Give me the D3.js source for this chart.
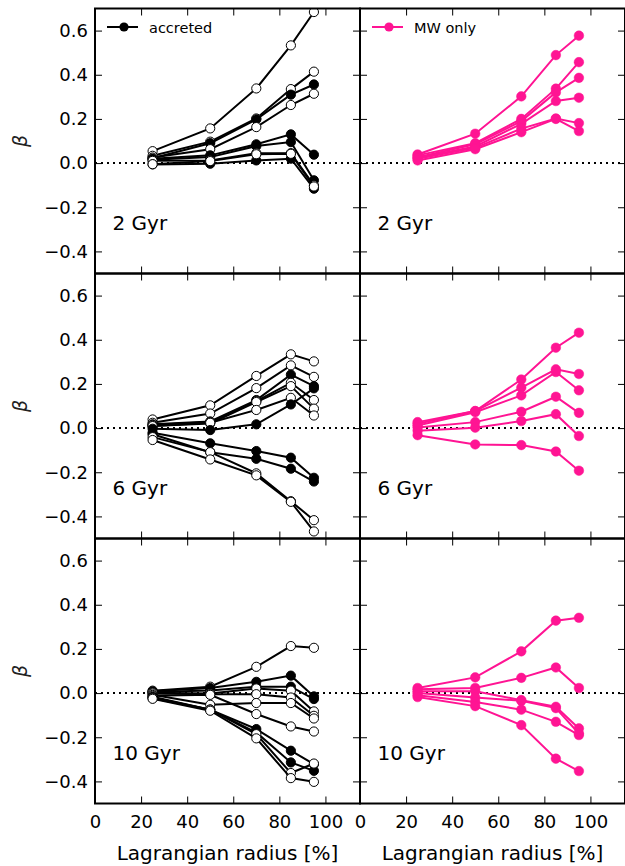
<!DOCTYPE html>
<html>
<head>
<meta charset="utf-8">
<script src="https://cdn.jsdelivr.net/npm/d3@7"></script>
<style>
  html, body { margin: 0; padding: 0; background: #fff; }
  svg { display: block; font-family: "DejaVu Sans", sans-serif; }
</style>
</head>
<body>
<svg id="chart" width="625" height="866"></svg>
<script>
// ---------------- data ----------------
const radii = [25, 50, 70, 85, 95];
const xTicks = [0, 20, 40, 60, 80, 100];
const yTicks = [-0.4, -0.2, 0.0, 0.2, 0.4, 0.6];
const timeLabels = ["2 Gyr", "6 Gyr", "10 Gyr"];
const legendLabels = ["accreted", "MW only"];

// accreted runs: values per Lagrangian radius; open = hollow marker
const acc2 = [
  [0.054, 0.157, 0.338, 0.533, 0.684],
  [0.033, 0.097, 0.202, 0.335, 0.414],
  [0.022, 0.090, 0.198, 0.310, 0.356],
  [0.025, 0.063, 0.163, 0.263, 0.314],
  [0.020, 0.035, 0.085, 0.130, 0.038],
  [0.015, 0.027, 0.077, 0.095, -0.078],
  [0.010, 0.012, 0.045, 0.045, -0.101],
  [-0.006, -0.003, 0.012, 0.020, -0.116],
  [-0.005, 0.009, 0.040, 0.042, -0.106]
];
const acc2Open = [true, true, false, true, false, false, true, false, true];

const acc6 = [
  [0.039, 0.103, 0.236, 0.334, 0.302],
  [0.024, 0.066, 0.181, 0.284, 0.232],
  [0.017, 0.030, 0.127, 0.242, 0.190],
  [0.014, 0.027, 0.122, 0.205, 0.127],
  [0.009, 0.021, 0.118, 0.190, 0.088],
  [0.009, 0.024, 0.082, 0.137, 0.057],
  [-0.003, -0.009, 0.017, 0.107, 0.180],
  [-0.021, -0.069, -0.104, -0.134, -0.225],
  [-0.028, -0.109, -0.139, -0.184, -0.242],
  [-0.041, -0.109, -0.205, -0.331, -0.417],
  [-0.054, -0.142, -0.214, -0.334, -0.468]
];
const acc6Open = [true, true, false, true, true, true, false, false, false, true, true];

const acc10 = [
  [0.011, 0.029, 0.119, 0.213, 0.205],
  [0.008, 0.023, 0.051, 0.079, -0.015],
  [0.005, 0.012, 0.029, 0.029, -0.027],
  [0.002, -0.002, 0.021, 0.011, -0.083],
  [-0.002, -0.005, -0.005, -0.020, -0.103],
  [-0.008, -0.053, -0.045, -0.045, -0.115],
  [-0.012, -0.008, -0.095, -0.151, -0.174],
  [-0.017, -0.075, -0.163, -0.261, -0.322],
  [-0.020, -0.075, -0.178, -0.314, -0.352],
  [-0.023, -0.075, -0.186, -0.362, -0.319],
  [-0.026, -0.080, -0.205, -0.385, -0.402]
];
const acc10Open = [true, false, false, true, true, true, true, false, false, true, true];

// MW-only runs (all filled)
const mw2 = [
  [0.039, 0.133, 0.302, 0.489, 0.577],
  [0.035, 0.090, 0.200, 0.337, 0.457],
  [0.027, 0.085, 0.190, 0.320, 0.386],
  [0.024, 0.075, 0.178, 0.281, 0.296],
  [0.020, 0.069, 0.156, 0.202, 0.181],
  [0.012, 0.063, 0.140, 0.200, 0.145]
];
const mw6 = [
  [0.027, 0.077, 0.220, 0.364, 0.432],
  [0.020, 0.077, 0.183, 0.266, 0.245],
  [0.012, 0.072, 0.148, 0.254, 0.171],
  [0.003, 0.027, 0.074, 0.142, 0.069],
  [-0.012, 0.002, 0.032, 0.063, -0.036],
  [-0.032, -0.074, -0.077, -0.106, -0.193]
];
const mw10 = [
  [0.023, 0.071, 0.189, 0.328, 0.341],
  [0.017, 0.023, 0.069, 0.116, 0.023],
  [0.008, 0.008, -0.032, -0.062, -0.160],
  [0.000, -0.020, -0.035, -0.068, -0.183],
  [-0.010, -0.040, -0.075, -0.130, -0.190],
  [-0.018, -0.059, -0.145, -0.297, -0.353]
];

// ---------------- layout ----------------
const PINK = "#ff1493";
const panelLefts = [95, 360];
const panelTops = [8.5, 273.5, 538.5];
const PW = 265, PH = 265;

const x = d3.scaleLinear().domain([0, 115]).range([0, PW]);
const y = d3.scaleLinear().domain([-0.5, 0.7]).range([PH, 0]);
const line = d3.line().x((d, i) => x(radii[i])).y(d => y(d));

const svg = d3.select("#chart");
const defs = svg.append("defs");
defs.append("clipPath").attr("id", "clip")
  .append("rect").attr("x", 0).attr("y", 0).attr("width", PW).attr("height", PH);

const accSets = [[acc2, acc2Open], [acc6, acc6Open], [acc10, acc10Open]];
const mwSets = [mw2, mw6, mw10];

function drawPanel(row, col) {
  const g = svg.append("g")
    .attr("transform", `translate(${panelLefts[col]},${panelTops[row]})`);
  const data = g.append("g").attr("clip-path", "url(#clip)");

  // zero line
  data.append("line")
    .attr("x1", 0).attr("x2", PW)
    .attr("y1", y(0)).attr("y2", y(0))
    .attr("stroke", "#000").attr("stroke-width", 2)
    .attr("stroke-dasharray", "2,4");

  const series = col === 0 ? accSets[row][0] : mwSets[row];
  const openFlags = col === 0 ? accSets[row][1] : series.map(() => false);
  const color = col === 0 ? "#000" : PINK;

  series.forEach((vals, k) => {
    const s = data.append("g");
    s.append("path").attr("d", line(vals))
      .attr("fill", "none").attr("stroke", color).attr("stroke-width", 2);
    s.selectAll("circle").data(vals).join("circle")
      .attr("cx", (d, i) => x(radii[i]))
      .attr("cy", d => y(d))
      .attr("r", col === 0 ? 4.6 : 4.8)
      .attr("fill", openFlags[k] ? "#fff" : color)
      .attr("stroke", col === 0 ? "#000" : PINK)
      .attr("stroke-width", col === 0 ? 1 : 0.5);
  });

  // axes (ticks inward on all sides)
  const bottom = d3.axisBottom(x).tickValues(xTicks).tickSizeInner(-7).tickSizeOuter(0)
    .tickPadding(12).tickFormat(row === 2 ? d3.format("d") : () => "");
  const top = d3.axisTop(x).tickValues(xTicks).tickSizeInner(-7).tickSizeOuter(0).tickFormat(() => "");
  const left = d3.axisLeft(y).tickValues(yTicks).tickSizeInner(-7).tickSizeOuter(0)
    .tickPadding(7).tickFormat(col === 0 ? d3.format(".1f") : () => "");
  const right = d3.axisRight(y).tickValues(yTicks).tickSizeInner(-7).tickSizeOuter(0).tickFormat(() => "");

  const styleAxis = sel => {
    sel.select(".domain").remove();
    sel.selectAll(".tick line").attr("stroke", "#000").attr("stroke-width", 1);
    sel.selectAll(".tick text").attr("fill", "#000")
      .style("font-family", "DejaVu Sans").style("font-size", "18px");
  };
  g.append("g").attr("transform", `translate(0,${PH})`).call(bottom).call(styleAxis);
  g.append("g").call(top).call(styleAxis);
  g.append("g").call(left).call(styleAxis);
  g.append("g").attr("transform", `translate(${PW},0)`).call(right).call(styleAxis);

  // frame
  g.append("rect").attr("x", 0).attr("y", 0).attr("width", PW).attr("height", PH)
    .attr("fill", "none").attr("stroke", "#000").attr("stroke-width", 2);

  // time label
  g.append("text").attr("x", 17.5).attr("y", 221)
    .style("font-size", "20px").attr("fill", "#000").text(timeLabels[row]);

  // legend in top row
  if (row === 0) {
    g.append("line").attr("x1", 12).attr("x2", 43).attr("y1", 18.5).attr("y2", 18.5)
      .attr("stroke", color).attr("stroke-width", 2);
    g.append("circle").attr("cx", 29).attr("cy", 18.5).attr("r", 4.6).attr("fill", color);
    g.append("text").attr("x", 54).attr("y", 24)
      .style("font-size", "14.5px").attr("fill", "#000").text(legendLabels[col]);
  }

  // y label
  if (col === 0) {
    svg.append("text")
      .attr("transform", `translate(27,${panelTops[row] + PH / 2}) rotate(-90)`)
      .attr("text-anchor", "middle")
      .style("font-size", "19px").style("font-style", "italic")
      .attr("fill", "#222").text("β");
  }
  // x label
  if (row === 2) {
    svg.append("text")
      .attr("x", panelLefts[col] + PW / 2).attr("y", 860)
      .attr("text-anchor", "middle")
      .style("font-size", "20px").attr("fill", "#000")
      .text("Lagrangian radius [%]");
  }
}

for (let r = 0; r < 3; r++) for (let c = 0; c < 2; c++) drawPanel(r, c);
</script>
</body>
</html>
